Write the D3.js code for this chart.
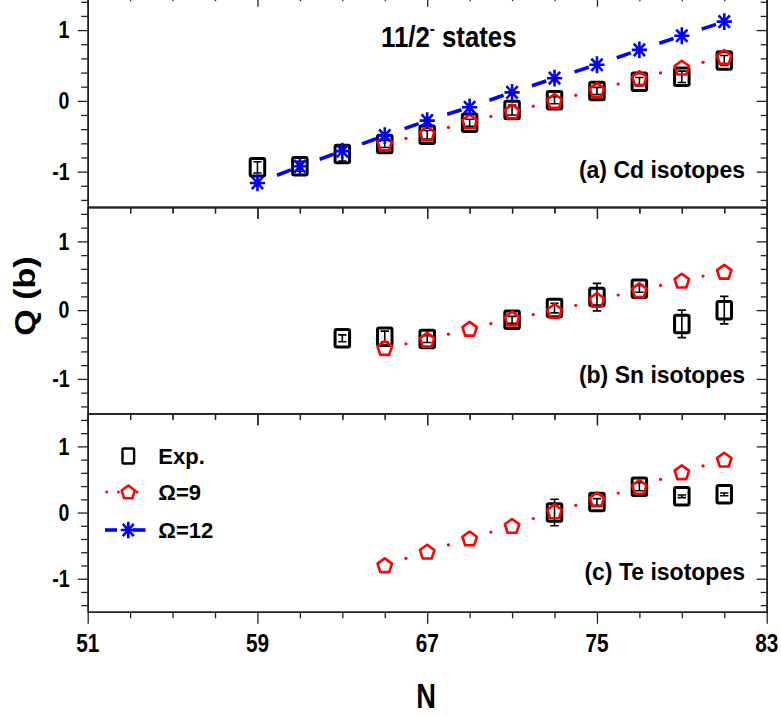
<!DOCTYPE html>
<html><head><meta charset="utf-8">
<script src="https://cdn.jsdelivr.net/npm/d3@7/dist/d3.min.js"></script>
<style>
body{margin:0;background:#fff}
svg{display:block}
text{font-family:"Liberation Sans",Arial,sans-serif;font-weight:bold;fill:#000}
</style>
</head><body>
<svg id="chart" width="781" height="717"></svg>
<script>
// ---------------- data ----------------
const nCd = [59,61,63,65,67,69,71,73,75,77,79,81];
const cdExp = [-0.94,-0.925,-0.75,-0.61,-0.48,-0.31,-0.13,0.01,0.14,0.27,0.34,0.57];
const cdErr = [0.08,0.07,0.10,0.05,0.06,0.05,0.07,0.05,0.05,0.06,0.08,0.07];
const cdOmega12 = [-1.16,-0.925,-0.71,-0.49,-0.28,-0.09,0.12,0.32,0.51,0.72,0.92,1.12];
const nTh = [65,67,69,71,73,75,77,79,81];
const cdOmega9 = [-0.60,-0.46,-0.29,-0.15,0.0,0.155,0.32,0.47,0.62];

const nSn = [63,65,67,71,73,75,77,79,81];
const snExp = [-0.41,-0.385,-0.42,-0.14,0.03,0.19,0.31,-0.20,0.0];
const snErr = [0.05,0.08,0.05,0.05,0.07,0.20,0.05,0.20,0.20];
const snOmega9 = [-0.55,-0.43,-0.27,-0.12,-0.01,0.15,0.29,0.43,0.56];

const nTe = [73,75,77,79,81];
const teExp = [0.0,0.16,0.39,0.245,0.275];
const teErr = [0.20,0.05,0.06,0.02,0.02];
const teOmega9 = [-0.795,-0.59,-0.39,-0.20,0.02,0.20,0.39,0.61,0.80];

const xTicksMajor = [51,59,67,75,83];
const xTicksMinor = [53,55,57,61,63,65,69,71,73,77,79,81];
const yTicksMajor = [-1,0,1];
const yTicksMinor = [-1.4,-1.2,-0.8,-0.6,-0.4,-0.2,0.2,0.4,0.6,0.8,1.2,1.4];
const panelLabels = ["(a) Cd isotopes","(b) Sn isotopes","(c) Te isotopes"];
const legendLabels = ["Exp.","\u03A9=9","\u03A9=12"];
const titleMain = "11/2", titleSup = "-", titleRest = " states";
const xTitle = "N", yTitle = "Q (b)";

// ---------------- layout ----------------
const svg = d3.select("#chart");
const left = 87.7, right = 766.7;
const x = d3.scaleLinear().domain([51,83]).range([left,right]);
const layout = [
  {top:-5.3, bottom:207.0, labelY:178},
  {top:207.0, bottom:413.3, labelY:383},
  {top:413.3, bottom:611.8, labelY:580}
];
const panelData = [
  {exp:{n:nCd,v:cdExp,e:cdErr}, o9:{n:nTh,v:cdOmega9}, o12:{n:nCd,v:cdOmega12}},
  {exp:{n:nSn,v:snExp,e:snErr}, o9:{n:nTh,v:snOmega9}, o12:null},
  {exp:{n:nTe,v:teExp,e:teErr}, o9:{n:nTh,v:teOmega9}, o12:null}
];
const RED = "#ff0000", BLUE = "#0000ff";

function pentagonPath(r){
  const p = d3.path();
  for (let i=0;i<5;i++){
    const a = -Math.PI/2 + i*2*Math.PI/5;
    const px = r*Math.cos(a), py = r*Math.sin(a);
    if (i===0) p.moveTo(px,py); else p.lineTo(px,py);
  }
  p.closePath();
  return p.toString();
}
function asteriskPath(rx, ry){
  const p = d3.path();
  const k = 0.74;
  p.moveTo(0,-ry); p.lineTo(0,ry);
  p.moveTo(-rx,0); p.lineTo(rx,0);
  p.moveTo(-rx*k,-ry*k); p.lineTo(rx*k,ry*k);
  p.moveTo(-rx*k,ry*k); p.lineTo(rx*k,-ry*k);
  return p.toString();
}

function styleAxis(g){
  g.select(".domain").attr("stroke","#222").attr("stroke-width",1.5);
  g.selectAll(".tick line").attr("stroke","#222").attr("stroke-width",1.3);
}
function addAxis(parent, gen, transform, size, vals){
  const g = parent.append("g").attr("transform",transform)
    .call(gen.tickValues(vals).tickSize(size).tickSizeOuter(0).tickFormat(""));
  styleAxis(g);
  return g;
}

// draw connecting line segments with gaps near markers (Origin style)
function drawSegments(g, ser, y, gap, color, width, dashFn){
  const pts = ser.n.map((n,i)=>[x(n), y(ser.v[i])]);
  for (let i=0;i<pts.length-1;i++){
    const [x1,y1] = pts[i], [x2,y2] = pts[i+1];
    const L = Math.hypot(x2-x1,y2-y1);
    const ux = (x2-x1)/L, uy = (y2-y1)/L;
    const Lv = L - 2*gap;
    const d = dashFn(Lv);
    g.append("line")
      .attr("x1", x1+ux*gap).attr("y1", y1+uy*gap)
      .attr("x2", x2-ux*gap).attr("y2", y2-uy*gap)
      .attr("stroke", color).attr("stroke-width", width)
      .attr("stroke-linecap", d.cap)
      .attr("stroke-dasharray", d.array)
      .attr("stroke-dashoffset", d.offset);
  }
}
const dotted = Lv => ({cap:"round", array:"0,13", offset: 13 - ((Lv/2) % 13)});
const dashed = Lv => ({cap:"butt", array:"0,13,15,200", offset: 0});

layout.forEach((lay, pi)=>{
  const y = d3.scaleLinear().domain([-1.5,1.5]).range([lay.bottom, lay.top]);
  const g = svg.append("g");
  // axes
  addAxis(g, d3.axisLeft(y), `translate(${left},0)`, 10, yTicksMajor);
  addAxis(g, d3.axisLeft(y), `translate(${left},0)`, 6.5, yTicksMinor);
  addAxis(g, d3.axisRight(y), `translate(${right},0)`, -10, yTicksMajor);
  addAxis(g, d3.axisRight(y), `translate(${right},0)`, -6, yTicksMinor);
  addAxis(g, d3.axisBottom(x), `translate(0,${lay.bottom})`, 12, xTicksMajor);
  addAxis(g, d3.axisBottom(x), `translate(0,${lay.bottom})`, 6.5, xTicksMinor);
  addAxis(g, d3.axisBottom(x), `translate(0,${lay.top})`, 12, xTicksMajor);
  addAxis(g, d3.axisBottom(x), `translate(0,${lay.top})`, 6.5, xTicksMinor);

  // y tick labels
  g.selectAll("text.ytl").data(yTicksMajor).join("text").attr("class","ytl")
    .attr("transform", d=>`translate(69.5,${y(d)}) scale(0.85,1)`)
    .attr("text-anchor","end").attr("dy","0.36em")
    .attr("font-size",23).text(d=>String(d));

  // panel label
  g.append("text").attr("x",745).attr("y",lay.labelY)
    .attr("text-anchor","end").attr("font-size",23).text(panelLabels[pi]);

  const pd = panelData[pi];
  // experimental: error bars + squares
  const ex = pd.exp;
  const eg = g.append("g");
  ex.n.forEach((n,i)=>{
    const cx = x(n), v = ex.v[i], e = ex.e[i];
    const yt = y(v+e), yb = y(v-e);
    eg.append("path")
      .attr("d", `M${cx},${yt}V${yb}M${cx-4.2},${yt}H${cx+4.2}M${cx-4.2},${yb}H${cx+4.2}`)
      .attr("stroke","#000").attr("stroke-width",1.6).attr("fill","none");
  });
  eg.selectAll("rect").data(ex.n.map((n,i)=>({n, v:ex.v[i]}))).join("rect")
    .attr("x", d=>x(d.n)-7.25).attr("y", d=>y(d.v)-8.75)
    .attr("width",14.5).attr("height",17.5).attr("rx",1.5)
    .attr("fill","none").attr("stroke","#000").attr("stroke-width",3);

  // Omega = 9
  const o9 = pd.o9;
  const g9 = g.append("g");
  drawSegments(g9, o9, y, 11, RED, 3.2, dotted);
  g9.selectAll("path.pent").data(o9.n.map((n,i)=>({n, v:o9.v[i]}))).join("path")
    .attr("class","pent")
    .attr("transform", d=>`translate(${x(d.n)},${y(d.v)+0.8})`)
    .attr("d", pentagonPath(7.6))
    .attr("fill","none").attr("stroke",RED).attr("stroke-width",2.6)
    .attr("stroke-linejoin","round");

  // Omega = 12
  if (pd.o12){
    const o12 = pd.o12;
    const g12 = g.append("g");
    drawSegments(g12, o12, y, 8, BLUE, 3.6, dashed);
    g12.selectAll("path.ast").data(o12.n.map((n,i)=>({n, v:o12.v[i]}))).join("path")
      .attr("class","ast")
      .attr("transform", d=>`translate(${x(d.n)},${y(d.v)})`)
      .attr("d", asteriskPath(7.6,8.4))
      .attr("fill","none").attr("stroke",BLUE).attr("stroke-width",2.6);
  }
});

// x tick labels (bottom panel)
svg.selectAll("text.xtl").data(xTicksMajor).join("text").attr("class","xtl")
  .attr("transform", d=>`translate(${x(d)},652.3) scale(0.8,1)`)
  .attr("text-anchor","middle").attr("font-size",26).text(d=>String(d));

// axis titles
svg.append("text").attr("transform","translate(426,708) scale(0.78,1)")
  .attr("text-anchor","middle").attr("font-size",35).text(xTitle);
svg.append("text").attr("transform","translate(35,296) rotate(-90) scale(1,0.87)")
  .attr("text-anchor","middle").attr("font-size",34).text(yTitle);

// title
const tt = svg.append("text").attr("transform","translate(381,47) scale(0.89,1)")
  .attr("font-size",29);
tt.append("tspan").text(titleMain);
tt.append("tspan").attr("font-size",17).attr("dy",-13).text(titleSup);
tt.append("tspan").attr("dy",13).text(titleRest);

// legend
const lg = svg.append("g");
const lx = 128.3, rows = [456, 492, 530];
lg.append("rect").attr("x",lx-5.8).attr("y",rows[0]-7.5).attr("width",11.6).attr("height",15)
  .attr("rx",1).attr("fill","none").attr("stroke","#000").attr("stroke-width",2.4);
lg.append("line").attr("x1",106.7).attr("x2",118.3).attr("y1",rows[1]).attr("y2",rows[1])
  .attr("stroke",RED).attr("stroke-width",3).attr("stroke-linecap","round").attr("stroke-dasharray","0,11.6");
lg.append("line").attr("x1",137).attr("x2",150).attr("y1",rows[1]).attr("y2",rows[1])
  .attr("stroke",RED).attr("stroke-width",3).attr("stroke-linecap","round").attr("stroke-dasharray","0,13");
lg.append("path").attr("transform",`translate(${lx},${rows[1]+0.6})`).attr("d",pentagonPath(7))
  .attr("fill","none").attr("stroke",RED).attr("stroke-width",2.5).attr("stroke-linejoin","round");
lg.append("line").attr("x1",105).attr("x2",117).attr("y1",rows[2]).attr("y2",rows[2])
  .attr("stroke",BLUE).attr("stroke-width",3.6);
lg.append("line").attr("x1",133).attr("x2",145.5).attr("y1",rows[2]).attr("y2",rows[2])
  .attr("stroke",BLUE).attr("stroke-width",3.6);
lg.append("path").attr("transform",`translate(${lx},${rows[2]})`).attr("d",asteriskPath(7.5,8.3))
  .attr("fill","none").attr("stroke",BLUE).attr("stroke-width",2.6);
lg.selectAll("text").data(legendLabels).join("text")
  .attr("x",158.3).attr("y",(d,i)=>rows[i]+7.8).attr("font-size",22).text(d=>d);
</script>
</body></html>
